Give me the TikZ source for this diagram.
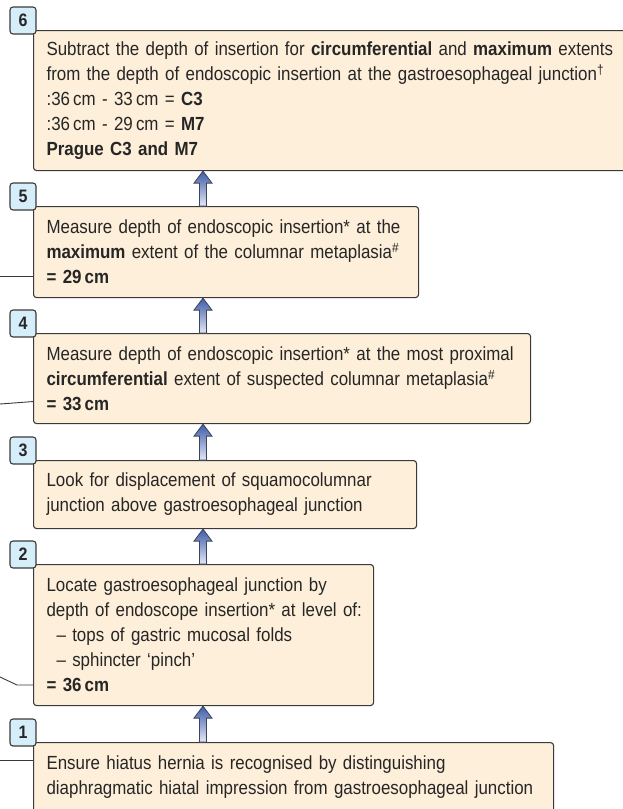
\documentclass[tikz,border=0pt]{standalone}
\usepackage{fontspec}
\setmainfont{Liberation Sans}[FakeStretch=0.89]
\usetikzlibrary{calc}

\definecolor{boxfill}{RGB}{253,239,217}
\definecolor{tagfill}{RGB}{214,238,250}
\definecolor{edge}{RGB}{58,58,58}
\definecolor{arrowtop}{RGB}{62,92,168}
\definecolor{arrowbot}{RGB}{228,231,246}

\tikzset{
    stepbox/.style={draw=edge, line width=1.1pt, fill=boxfill, rounded corners=3pt,
        anchor=north west, align=left, inner xsep=13pt, inner ysep=0pt,
        font=\fontsize{19}{25}\selectfont, text=black!85},
    numtag/.style={draw=edge, line width=1.1pt, fill=tagfill, rounded corners=3pt,
        minimum width=26pt, minimum height=27pt, inner sep=0pt,
        font=\fontsize{18}{18}\selectfont\bfseries, text=black!85},
    leader/.style={draw=edge, line width=0.9pt},
    flowarrow/.style={top color=arrowtop, bottom color=arrowbot, draw=edge!70!arrowtop, line width=0.8pt}
}

\newcommand{\flowup}[2]{%
    \shadedraw[flowarrow] ($(#1.north -| spine)+(-3.5,0)$) -- ($(#2.south -| spine)+(-3.5,12)$)
        -- ($(#2.south -| spine)+(-9,12)$) -- (#2.south -| spine)
        -- ($(#2.south -| spine)+(9,12)$) -- ($(#2.south -| spine)+(3.5,12)$)
        -- ($(#1.north -| spine)+(3.5,0)$) -- cycle;}

\begin{document}
\begin{tikzpicture}[x=1pt,y=-1pt]
    \useasboundingbox (0,0) rectangle (623,809);
    \coordinate (spine) at (203,0);

    \coordinate (l5) at (0,276);
    \coordinate (l4) at (0,404);
    \coordinate (l2) at (0,677);
    \coordinate (k2) at (17,685);
    \coordinate (l1) at (0,760);

    \node[stepbox, text width=591pt, minimum height=140pt] (b6) at (33,30)
        {Subtract the depth of insertion for \textbf{circumferential} and \textbf{maximum} extents\\
         from the depth of endoscopic insertion at the gastroesophageal junction\textsuperscript{\textdagger}\\
         :36\,cm - 33\,cm = \textbf{C3}\\
         :36\,cm - 29\,cm = \textbf{M7}\\
         \textbf{Prague C3 and M7}};
    \node[stepbox, text width=359pt, minimum height=91pt] (b5) at (33,206)
        {Measure depth of endoscopic insertion* at the\\
         \textbf{maximum} extent of the columnar metaplasia\textsuperscript{\#}\\
         \textbf{= 29\,cm}};
    \node[stepbox, text width=471pt, minimum height=90pt] (b4) at (33,333)
        {Measure depth of endoscopic insertion* at the most proximal\\
         \textbf{circumferential} extent of suspected columnar metaplasia\textsuperscript{\#}\\
         \textbf{= 33\,cm}};
    \node[stepbox, text width=357pt, minimum height=68pt] (b3) at (33,460)
        {Look for displacement of squamocolumnar\\
         junction above gastroesophageal junction};
    \node[stepbox, text width=314pt, minimum height=141pt] (b2) at (33,564)
        {Locate gastroesophageal junction by\\
         \mbox{depth of endoscope insertion* at level of:}\\
         \hspace*{10pt}-- tops of gastric mucosal folds\\
         \hspace*{10pt}-- sphincter `pinch'\\
         \textbf{= 36\,cm}};
    \node[stepbox, text width=494pt, minimum height=70pt] (b1) at (33,742)
        {Ensure hiatus hernia is recognised by distinguishing\\
         diaphragmatic hiatal impression from gastroesophageal junction};

    \draw[leader] (l5) -- (l5 -| b5.west);
    \draw[leader] (l4) -- ([yshift=-23pt]b4.west);
    \draw[leader] (l2) -- (k2) -- (k2 -| b2.west);
    \draw[leader] (l1) -- (l1 -| b1.west);

    \foreach \a/\b in {b1/b2,b2/b3,b3/b4,b4/b5,b5/b6}
        \flowup{\a}{\b};

    \foreach \i in {1,...,6}
        \node[numtag] (t\i) at ([shift={(-10,-9.5)}]b\i.north west) {\i};
\end{tikzpicture}
\end{document}
